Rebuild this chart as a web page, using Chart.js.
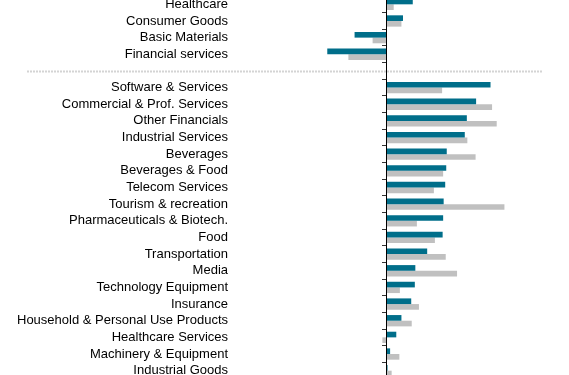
<!DOCTYPE html>
<html>
<head>
<meta charset="utf-8">
<script src="https://cdn.jsdelivr.net/npm/chart.js@4/dist/chart.umd.min.js"></script>
<style>
  html, body { margin: 0; padding: 0; background: #fff; overflow: hidden; }
  #wrap { position: absolute; left: 0; top: -20px; width: 569px; height: 420px; }
</style>
</head>
<body>
<div id="wrap"><canvas id="c"></canvas></div>
<script>
const categories = [
  "Healthcare", "Consumer Goods", "Basic Materials", "Financial services", "",
  "Software & Services", "Commercial & Prof. Services", "Other Financials",
  "Industrial Services", "Beverages", "Beverages & Food", "Telecom Services",
  "Tourism & recreation", "Pharmaceuticals & Biotech.", "Food", "Transportation",
  "Media", "Technology Equipment", "Insurance", "Household & Personal Use Products",
  "Healthcare Services", "Machinery & Equipment", "Industrial Goods"
];
const seriesTeal = [5.1, 3.2, -6.2, -11.5, null,
  20.2, 17.4, 15.6, 15.2, 11.7, 11.6, 11.4, 11.1, 11.0, 10.9, 7.9,
  5.6, 5.5, 4.8, 2.9, 1.9, 0.7, 0.2];
const seriesGray = [1.4, 2.9, -2.7, -7.4, null,
  10.8, 20.5, 21.4, 15.7, 17.3, 11.0, 9.2, 22.9, 5.9, 9.4, 11.5,
  13.7, 2.6, 6.3, 4.9, -0.8, 2.5, 1.0];
const separatorIndex = 4;

const separatorPlugin = {
  id: 'separator',
  beforeDatasetsDraw(chart) {
    const y = Math.round(chart.scales.y.getPixelForValue(separatorIndex)) + 0.5;
    const ctx = chart.ctx;
    ctx.save();
    ctx.strokeStyle = '#d4d4d4';
    ctx.lineWidth = 2;
    ctx.setLineDash([2, 1]);
    ctx.beginPath();
    ctx.moveTo(27, y);
    ctx.lineTo(542, y);
    ctx.stroke();
    ctx.restore();
  }
};

new Chart(document.getElementById('c'), {
  type: 'bar',
  data: {
    labels: categories,
    datasets: [
      { label: 'A', data: seriesTeal, backgroundColor: '#006e8a', yAxisID: 'y',
        categoryPercentage: 0.68, barPercentage: 1.0 },
      { label: 'B', data: seriesGray, backgroundColor: '#c0c0c0', yAxisID: 'y',
        categoryPercentage: 0.68, barPercentage: 1.0 }
    ]
  },
  options: {
    indexAxis: 'y',
    responsive: true,
    maintainAspectRatio: false,
    animation: false,
    layout: { padding: { top: 16, bottom: 21, left: 0, right: 28 } },
    plugins: { legend: { display: false }, tooltip: { enabled: false } },
    scales: {
      x: {
        min: -30, max: 30,
        display: true,
        ticks: { display: false },
        border: { display: false },
        grid: { drawTicks: false, color: 'transparent' }
      },
      y: {
        type: 'category',
        position: 'left',
        offset: true,
        grid: { display: false, drawTicks: false, tickLength: 0 },
        border: { display: false },
        ticks: {
          padding: 4,
          color: '#000',
          font: { family: 'Arial, "Liberation Sans", sans-serif', size: 13 },
          autoSkip: false
        },
        afterFit(scale) { scale.width = 232; }
      },
      y2: {
        type: 'category',
        position: { x: 0 },
        offset: true,
        grid: { drawOnChartArea: false, drawTicks: true, tickLength: 4, color: '#333', offset: true },
        border: { display: true, color: '#000', width: 1 },
        ticks: { display: false, autoSkip: false }
      }
    }
  },
  plugins: [separatorPlugin]
});
</script>
</body>
</html>
